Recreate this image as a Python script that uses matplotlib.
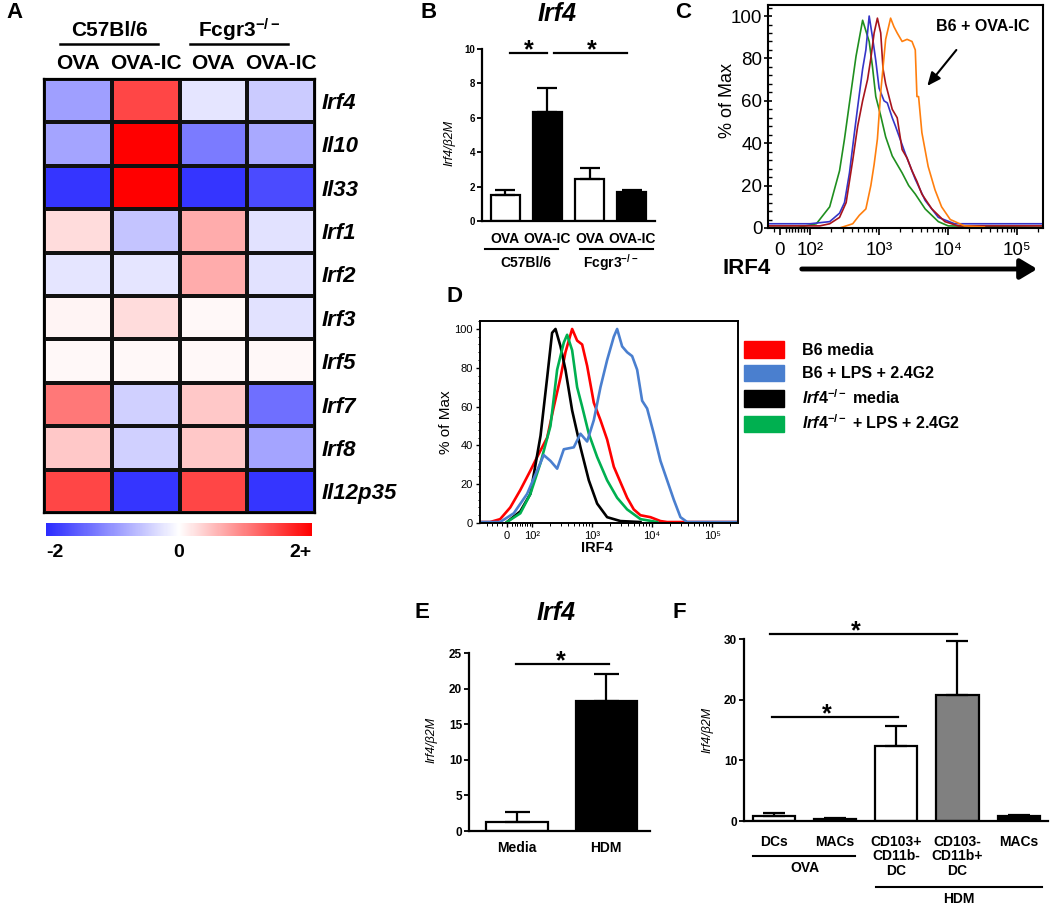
import matplotlib
matplotlib.use('Agg')
import matplotlib.pyplot as plt
import numpy as np
from matplotlib.colors import LinearSegmentedColormap
from matplotlib.patches import Patch
from matplotlib.ticker import FixedLocator, AutoMinorLocator

plt.rcParams['font.family'] = ['Liberation Sans', 'DejaVu Sans']
plt.rcParams['mathtext.fontset'] = 'custom'
plt.rcParams['mathtext.rm'] = 'Liberation Sans:bold'
plt.rcParams['mathtext.it'] = 'Liberation Sans:italic:bold'
plt.rcParams['mathtext.bf'] = 'Liberation Sans:bold'

# ---------------- data ----------------
# A: heatmap (z-score, -2..2)
genes = ['Irf4', 'Il10', 'Il33', 'Irf1', 'Irf2', 'Irf3', 'Irf5', 'Irf7', 'Irf8', 'Il12p35']
conditions = ['OVA', 'OVA-IC', 'OVA', 'OVA-IC']
heat_vals = [[-0.9, 1.45, -0.25, -0.5],
             [-0.85, 2.0, -1.25, -0.8],
             [-1.9, 2.0, -1.9, -1.7],
             [0.27, -0.55, 0.65, -0.27],
             [-0.25, -0.25, 0.65, -0.27],
             [0.08, 0.27, 0.06, -0.27],
             [0.05, 0.05, 0.05, 0.05],
             [1.05, -0.45, 0.43, -1.35],
             [0.43, -0.45, 0.43, -0.85],
             [1.45, -1.9, 1.45, -1.9]]

# B: Irf4/B2M, OVA vs OVA-IC
b_labels = ['OVA', 'OVA-IC', 'OVA', 'OVA-IC']
b_means = [1.5, 6.35, 2.45, 1.7]
b_err = [0.3, 1.4, 0.65, 0.1]
b_colors = ['white', 'black', 'white', 'black']

# C: histograms (IRF4 intensity, % of max)
c_green_x = [-40, 60, 124, 193, 268, 316, 373, 464, 578, 719, 803, 896, 1056, 1245,
             1550, 2154, 2683, 3340, 4642, 7200, 10000, 2.3e5]
c_green_y = [0.3, 0.3, 2, 10, 27, 42, 59, 81, 98, 88, 76, 62, 53, 43, 34, 26, 20, 16,
             9, 3, 1, 0.3]
c_blue_x = [-40, 100, 193, 268, 316, 373, 440, 490, 578, 644, 719, 803, 896, 1000,
            1179, 1315, 1550, 1728, 2400, 3340, 4642, 7200, 12400, 2.3e5]
c_blue_y = [2, 2, 3, 7, 12, 26, 45, 57, 75, 84, 100, 90, 79, 66, 60, 59, 52, 48, 35,
            23, 13, 5, 2, 2]
c_red_x = [-40, 139, 193, 268, 334, 416, 490, 578, 681, 760, 848, 946, 1056, 1141,
           1245, 1550, 1828, 2154, 2540, 2993, 3530, 4160, 5800, 8960, 13900, 2.3e5]
c_red_y = [1, 1, 2, 5, 12, 32, 48, 60, 70, 80, 92, 99, 92, 75, 68, 56, 52, 37, 33, 27,
           22, 16, 9, 3, 1, 1]
c_orange_x = [268, 416, 518, 644, 760, 848, 946, 1056, 1245, 1468, 1638, 1828, 2154,
              2540, 2993, 3340, 3530, 3728, 4160, 5130, 6440, 8020, 10700, 17200, 33400]
c_orange_y = [0, 2, 6, 9, 20, 30, 42, 64, 89, 99, 95, 92, 88, 89, 88, 84, 62, 62, 45,
              29, 18, 10, 4, 1, 0.5]

# D: histograms
d_labels = ['B6 media', 'B6 + LPS + 2.4G2', r'$\mathit{Irf4}^{-/-}$ media',
            r'$\mathit{Irf4}^{-/-}$ + LPS + 2.4G2']
d_colors = ['#ff0000', '#4a7fcf', '#000000', '#00b050']
d_red_x = [-107, -67, -27, 13, 53, 93, 121, 178, 230, 297, 359, 464, 562, 681, 825,
           1066, 1377, 1778, 2297, 2965, 3831, 4942, 6390, 9380, 13770, 17780, 2.7e5]
d_red_y = [0.5, 0.5, 2, 8, 17, 27, 34, 44, 60, 75, 88, 100, 94, 92, 81, 62, 53, 43,
           29, 21, 13, 7, 4, 3, 1, 0.5, 0.5]
d_blue_x = [-107, -27, 27, 80, 121, 156, 202, 261, 337, 494, 639, 825, 1066, 1377,
            1778, 2297, 2610, 3162, 3831, 4642, 5623, 6813, 8254, 10660, 13770, 17780,
            22970, 29660, 38310, 2.7e5]
d_blue_y = [0.5, 0.5, 5, 15, 27, 35, 32, 28, 38, 39, 46, 42, 53, 70, 84, 96, 100, 91,
            88, 86, 79, 63, 59, 46, 32, 22, 12, 3, 0.5, 0.5]
d_black_x = [0, 53, 93, 138, 178, 215, 245, 297, 359, 464, 639, 880, 1212, 1778, 2965,
             6390]
d_black_y = [0.5, 6, 15, 45, 75, 98, 100, 91, 79, 58, 39, 22, 10, 3, 1, 0.5]
d_green_x = [0, 53, 93, 138, 202, 261, 337, 383, 464, 562, 681, 880, 1212, 1778, 2610,
             3831, 6390, 12120]
d_green_y = [0.5, 5, 15, 31, 50, 79, 93, 97, 89, 70, 60, 46, 34, 22, 13, 7, 2, 0.5]

# E: Media vs HDM
e_labels = ['Media', 'HDM']
e_means = [1.3, 18.3]
e_err = [1.3, 3.8]
e_colors = ['white', 'black']

# F: sorted cells
f_labels = ['DCs', 'MACs', 'CD103+\nCD11b-\nDC', 'CD103-\nCD11b+\nDC', 'MACs']
f_means = [0.8, 0.3, 12.4, 20.8, 0.9]
f_err = [0.5, 0.15, 3.3, 8.8, 0.1]
f_colors = ['white', 'black', 'white', '#808080', 'black']

# ---------------- figure ----------------
W, H = 1050, 906
fig = plt.figure(figsize=(10.5, 9.06), dpi=100)


def px_axes(l, t, r, b):
    return fig.add_axes([l / W, 1 - b / H, (r - l) / W, (b - t) / H])


def ftext(x, y, s, **kw):
    fig.text(x / W, 1 - y / H, s, **kw)


def bar_panel(ax, means, err, colors, labels, ymax, yticks, cap, ysize):
    pos = np.arange(len(means))
    ax.bar(pos, means, width=0.69, color=colors, edgecolor='black', linewidth=1.6,
           zorder=2)
    ax.errorbar(pos, means, yerr=[np.zeros(len(err)), err], fmt='none', ecolor='black',
                elinewidth=1.6, capsize=cap, capthick=1.6, zorder=3)
    ax.set_ylim(0, ymax)
    ax.set_yticks(yticks)
    ax.set_xticks(pos, labels)
    for s in ['top', 'right']:
        ax.spines[s].set_visible(False)
    for s in ['left', 'bottom']:
        ax.spines[s].set_linewidth(1.6)
    ax.tick_params(axis='y', length=3.5, width=1.3, labelsize=ysize, pad=1.5)
    ax.tick_params(axis='x', length=0, labelsize=10)
    for t in ax.get_yticklabels() + ax.get_xticklabels():
        t.set_fontweight('bold')
    return pos


def sig(ax, x0, x1, y, xs):
    ax.plot([x0, x1], [y, y], color='black', lw=1.6, clip_on=False)
    ax.annotate('*', xy=(xs, y), xytext=(0, -3), textcoords='offset points',
                ha='center', va='baseline', fontsize=18, fontweight='bold',
                annotation_clip=False)


# ---- A: heatmap
axA = px_axes(44, 79, 315, 513)
cmap = LinearSegmentedColormap.from_list('bwr_fig', ['#2b2bff', '#ffffff', '#ff0000'])
mesh = axA.pcolormesh(np.array(heat_vals), cmap=cmap, vmin=-2, vmax=2,
                      edgecolors='#111111', linewidth=1.6)
axA.set_xlim(0, 4)
axA.set_ylim(len(genes), 0)
axA.yaxis.tick_right()
axA.set_yticks(np.arange(len(genes)) + 0.5, genes)
axA.xaxis.tick_top()
axA.set_xticks(np.arange(4) + 0.5, conditions)
axA.tick_params(length=0)
axA.tick_params(axis='x', labelsize=15, pad=4)
axA.tick_params(axis='y', labelsize=16, pad=5)
for t in axA.get_xticklabels():
    t.set_fontweight('bold')
for t in axA.get_yticklabels():
    t.set_fontweight('bold')
    t.set_fontstyle('italic')
for s in axA.spines.values():
    s.set_linewidth(1.6)
trA = axA.get_xaxis_transform()
axA.plot([0.24, 1.68], [1.081, 1.081], color='black', lw=1.8, transform=trA,
         clip_on=False)
axA.plot([2.16, 3.6], [1.081, 1.081], color='black', lw=1.8, transform=trA,
         clip_on=False)
axA.text(0.96, 1.112, 'C57Bl/6', transform=trA, ha='center', va='center',
         fontsize=15, fontweight='bold')
axA.text(2.88, 1.112, r'Fcgr3$^{-/-}$', transform=trA, ha='center', va='center',
         fontsize=15, fontweight='bold')

cax = px_axes(46, 523, 312, 536)
cb = fig.colorbar(mesh, cax=cax, orientation='horizontal')
cb.outline.set_visible(False)
cax.set_xticks([])
cax.text(-2, -1.25, '-2', transform=cax.get_xaxis_transform(), ha='left', va='center',
         fontsize=14, fontweight='bold')
cax.text(0, -1.25, '0', transform=cax.get_xaxis_transform(), ha='center', va='center',
         fontsize=14, fontweight='bold')
cax.text(2, -1.25, '2+', transform=cax.get_xaxis_transform(), ha='right', va='center',
         fontsize=14, fontweight='bold')
ftext(6, 13, 'A', fontsize=16, fontweight='bold', va='center')

# ---- B
axB = px_axes(482, 49, 655, 221)
bar_panel(axB, b_means, b_err, b_colors, b_labels, 10, [0, 2, 4, 6, 8, 10], 7, 7)
axB.set_xlim(-0.55, 3.55)
axB.tick_params(axis='x', pad=8)
sig(axB, 0.12, 0.99, 9.75, 0.55)
sig(axB, 1.16, 2.89, 9.75, 2.04)
trB = axB.get_xaxis_transform()
axB.plot([-0.47, 1.26], [-0.163, -0.163], color='black', lw=1.5, transform=trB,
         clip_on=False)
axB.plot([1.78, 3.51], [-0.163, -0.163], color='black', lw=1.5, transform=trB,
         clip_on=False)
axB.text(0.5, -0.244, 'C57Bl/6', transform=trB, ha='center', va='center', fontsize=10,
         fontweight='bold')
axB.text(2.5, -0.244, r'Fcgr3$^{-/-}$', transform=trB, ha='center', va='center',
         fontsize=10, fontweight='bold')
ftext(557, 14, 'Irf4', fontsize=18, fontweight='bold', fontstyle='italic',
      ha='center', va='center')
ftext(449, 143, 'Irf4/β2M', fontsize=9, fontstyle='italic', rotation=90,
      ha='center', va='center')
ftext(420, 13, 'B', fontsize=16, fontweight='bold', va='center')

# ---- C
axC = px_axes(768, 5, 1043, 228)
for xs, ys, c in [(c_green_x, c_green_y, '#1f8f1f'), (c_blue_x, c_blue_y, '#3535c8'),
                  (c_red_x, c_red_y, '#a8141c'), (c_orange_x, c_orange_y, '#ff7f0e')]:
    axC.plot(xs, ys, color=c, lw=1.2)
axC.set_xscale('symlog', linthresh=100, linscale=0.39)
axC.set_xlim(-40, 2.35e5)
axC.set_ylim(0, 105.2)
decade_minor = [k * 10 ** d for d in range(1, 6) for k in range(2, 10)]
axC.xaxis.set_major_locator(FixedLocator([0, 1e2, 1e3, 1e4, 1e5]))
axC.xaxis.set_minor_locator(FixedLocator([-20, 20, 40, 60, 80] + decade_minor))
axC.set_xticklabels(['0', '10²', '10³', '10⁴', '10⁵'])
axC.set_yticks([0, 20, 40, 60, 80, 100])
axC.yaxis.set_minor_locator(AutoMinorLocator(5))
axC.tick_params(axis='y', which='major', direction='inout', length=6, width=1.2,
                labelsize=13.5, pad=1)
axC.tick_params(axis='y', which='minor', direction='in', length=3, width=1)
axC.tick_params(axis='x', which='major', direction='out', length=5, width=1.2,
                labelsize=13.5, pad=5)
axC.tick_params(axis='x', which='minor', direction='out', length=3, width=0.9)
for s in axC.spines.values():
    s.set_linewidth(1.5)
axC.text(3.16e4, 95, 'B6 + OVA-IC', ha='center', va='center', fontsize=11.5,
         fontweight='bold')
axC.annotate('', xy=(4700, 66), xytext=(13900, 85),
             arrowprops=dict(arrowstyle='-|>,head_length=0.8,head_width=0.35',
                             color='black', lw=1.5))
ftext(728, 100, '% of Max', fontsize=13, rotation=90, ha='center', va='center')
ftext(723, 268, 'IRF4', fontsize=16, fontweight='bold', ha='left', va='center')
fig.add_artist(matplotlib.patches.FancyArrowPatch(
    (799 / W, 1 - 269 / H), (1040 / W, 1 - 269 / H), transform=fig.transFigure,
    arrowstyle='-|>,head_length=0.5,head_width=0.3', mutation_scale=20,
    color='black', lw=3.5))
ftext(675, 13, 'C', fontsize=16, fontweight='bold', va='center')

# ---- D
axD = px_axes(480, 321, 738, 523)
for xs, ys, c in [(d_red_x, d_red_y, d_colors[0]), (d_black_x, d_black_y, d_colors[2]),
                  (d_green_x, d_green_y, d_colors[3]), (d_blue_x, d_blue_y, d_colors[1])]:
    axD.plot(xs, ys, color=c, lw=1.9)
axD.set_xscale('symlog', linthresh=100, linscale=0.378)
axD.set_xlim(-107, 2.7e5)
axD.set_ylim(0, 104.1)
axD.xaxis.set_major_locator(FixedLocator([0, 1e2, 1e3, 1e4, 1e5]))
axD.xaxis.set_minor_locator(FixedLocator([-80, -60, -40, -20, 20, 40, 60, 80] + decade_minor))
axD.set_xticklabels(['0', '10²', '10³', '10⁴', '10⁵'])
axD.set_yticks([0, 20, 40, 60, 80, 100])
axD.yaxis.set_minor_locator(AutoMinorLocator(5))
axD.tick_params(axis='y', which='major', length=3, width=1, labelsize=8, pad=2)
axD.tick_params(axis='y', which='minor', length=1.5, width=0.7)
axD.tick_params(axis='x', which='major', length=3, width=1, labelsize=8, pad=3)
axD.tick_params(axis='x', which='minor', length=2, width=0.7)
for s in axD.spines.values():
    s.set_linewidth(1.4)
ftext(597, 548, 'IRF4', fontsize=10.5, fontweight='bold', ha='center', va='center')
ftext(446, 422, '% of Max', fontsize=11, rotation=90, ha='center', va='center')
handles = [Patch(facecolor=c, edgecolor=c) for c in d_colors]
fig.legend(handles, d_labels, loc='upper left', bbox_to_anchor=(744 / W, 1 - 341 / H),
           frameon=False, borderpad=0, borderaxespad=0, handlelength=2.5,
           handleheight=1.25, handletextpad=1.1, labelspacing=0.42,
           prop=dict(size=11.5, weight='bold'))
ftext(446, 297, 'D', fontsize=16, fontweight='bold', va='center')

# ---- E
axE = px_axes(469, 653, 650, 831)
bar_panel(axE, e_means, e_err, e_colors, e_labels, 25, [0, 5, 10, 15, 20, 25], 9, 8.5)
axE.set_xlim(-0.54, 1.49)
axE.tick_params(axis='x', pad=7)
sig(axE, -0.01, 1.03, 23.45, 0.49)
ftext(556, 613, 'Irf4', fontsize=18, fontweight='bold', fontstyle='italic',
      ha='center', va='center')
ftext(432, 740, 'Irf4/β2M', fontsize=9, fontstyle='italic', rotation=90,
      ha='center', va='center')
ftext(414, 612, 'E', fontsize=16, fontweight='bold', va='center')

# ---- F
axF = px_axes(744, 639, 1048, 821)
bar_panel(axF, f_means, f_err, f_colors, f_labels, 30, [0, 10, 20, 30], 8, 8.5)
axF.set_xlim(-0.49, 4.48)
axF.tick_params(axis='x', pad=10)
for t in axF.get_xticklabels():
    t.set_linespacing(1.05)
sig(axF, -0.07, 3.0, 30.8, 1.33)
sig(axF, -0.03, 2.02, 17.1, 0.87)
trF = axF.get_xaxis_transform()
axF.plot([-0.34, 1.33], [-0.192, -0.192], color='black', lw=1.5, transform=trF,
         clip_on=False)
axF.plot([1.66, 4.38], [-0.363, -0.363], color='black', lw=1.5, transform=trF,
         clip_on=False)
axF.text(0.5, -0.258, 'OVA', transform=trF, ha='center', va='center', fontsize=10,
         fontweight='bold')
axF.text(3.02, -0.43, 'HDM', transform=trF, ha='center', va='center', fontsize=10,
         fontweight='bold')
ftext(707, 730, 'Irf4/β2M', fontsize=9, fontstyle='italic', rotation=90,
      ha='center', va='center')
ftext(673, 612, 'F', fontsize=16, fontweight='bold', va='center')

fig.savefig('out.png', dpi=100)
